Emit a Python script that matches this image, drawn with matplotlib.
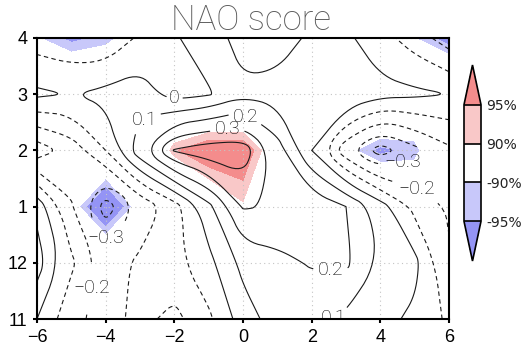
import numpy as np
import matplotlib
matplotlib.use('Agg')
import matplotlib.pyplot as plt
from matplotlib.colors import ListedColormap, BoundaryNorm
from matplotlib.path import Path
import matplotlib.cm as cm

# lag (x) and month (y) axes
lags = np.arange(-6, 7)
month_pos = np.arange(6)
month_labels = ['11', '12', '1', '2', '3', '4']

# correlation with NAO score, rows = Nov .. Apr, cols = lag -6 .. 6
corr = np.array([
    [0.00, -0.17, -0.24, -0.17, -0.23, -0.12, 0.05, 0.15, 0.13, 0.08, 0.03, -0.02, -0.12],
    [0.15, -0.08, -0.25, -0.18, -0.13, -0.03, 0.13, 0.17, 0.21, 0.22, 0.09, 0.03, -0.19],
    [0.07, -0.19, -0.45, -0.28, -0.15, 0.07, 0.31, 0.29, 0.27, 0.20, 0.05, -0.13, -0.21],
    [-0.36, -0.26, -0.10, 0.17, 0.41, 0.46, 0.46, 0.25, 0.00, -0.27, -0.45, -0.33, -0.22],
    [0.02, -0.005, 0.03, 0.05, -0.04, -0.01, 0.08, 0.06, 0.05, 0.09, 0.03, 0.02, 0.00],
    [-0.15, -0.18, -0.19, -0.08, -0.01, 0.05, 0.14, 0.15, 0.08, 0.02, -0.06, -0.15, -0.25],
])

# t statistic used for the significance shading
tval = np.array([
    [0.0, -0.7, -0.9, -0.7, -0.9, -0.4, 0.2, 0.6, 0.5, 0.3, 0.1, -0.2, -0.5],
    [0.6, -0.3, -0.5, -0.8, -0.5, -0.1, 0.5, 0.7, 0.8, 0.8, 0.3, 0.1, -0.8],
    [0.0, -1.3, -2.8, -1.3, -0.6, 0.9, 1.57, 0.8, 0.9, 0.7, 0.0, -0.8, -0.9],
    [-1.7, -0.8, -0.5, 0.0, 1.9, 2.4, 2.4, 1.0, 0.0, -1.45, -2.1, -1.82, -0.65],
    [0.0, -0.3, -0.3, 0.2, -0.1, 0.0, 0.0, 0.3, 0.2, 0.4, 0.03, -0.8, -0.3],
    [-1.6, -2.1, -1.85, -1.17, -0.3, 0.2, 0.6, 0.6, 0.4, 0.1, -0.3, -1.64, -2.2],
])

levels = np.round(np.arange(-0.5, 0.55, 0.1), 1) + 0.0
sig_bounds = [-1.96, -1.645, 1.645, 1.96]
sig_labels = ['-95%', '-90%', '90%', '95%']

# where the contour labels sit
label_pos = [(-3.15, 3.76), (-2.0, 3.88), (0.15, 3.72), (-0.45, 3.36),
             (4.75, 2.62), (5.0, 2.24), (-4.05, 1.25), (-4.05, 0.52),
             (2.55, 0.82), (2.55, 0.1)]


def chaikin(v, closed, n=3):
    # corner cutting, to get the smooth NCL look
    for _ in range(n):
        if closed:
            p = v[:-1]
            q = np.roll(p, -1, axis=0)
        else:
            p, q = v[:-1], v[1:]
        new = np.empty((2 * len(p), 2))
        new[0::2] = 0.75 * p + 0.25 * q
        new[1::2] = 0.25 * p + 0.75 * q
        if closed:
            v = np.vstack([new, new[:1]])
        else:
            v = np.vstack([v[:1], new, v[-1:]])
    return v


fig = plt.figure(figsize=(5.21, 3.48), dpi=100)
ax = fig.add_axes([37/521, 29/348, 412/521, 281/348])

cmap = ListedColormap(['#c8c8fa', 'white', '#f9c8c8'])
cmap.set_under('#9494f5')
cmap.set_over('#f48c8c')
norm = BoundaryNorm(sig_bounds, cmap.N)

ax.contourf(lags, month_pos, tval, levels=sig_bounds, cmap=cmap, norm=norm,
            extend='both', zorder=1)

styles = [(0, (4, 3)) if l < 0 else 'solid' for l in levels]
cs = ax.contour(lags, month_pos, corr, levels=levels, colors='#1a1a1a',
                linewidths=0.8, linestyles=styles, zorder=3)

paths = cs.get_paths()
for i, p in enumerate(paths):
    if len(p.vertices) == 0:
        continue
    codes = p.codes
    starts = list(np.where(codes == Path.MOVETO)[0]) + [len(codes)]
    vv, cc = [], []
    for a, b in zip(starts[:-1], starts[1:]):
        v = p.vertices[a:b]
        closed = codes[b - 1] == Path.CLOSEPOLY or np.allclose(v[0], v[-1])
        if closed:
            v = v.copy()
            v[-1] = v[0]
        s = chaikin(v, closed)
        c = np.full(len(s), Path.LINETO, dtype=np.uint8)
        c[0] = Path.MOVETO
        if closed:
            c[-1] = Path.CLOSEPOLY
        vv.append(s)
        cc.append(c)
    paths[i] = Path(np.concatenate(vv), np.concatenate(cc))


def fmt(v):
    return f'{round(v, 1) + 0.0:g}'.replace('-', '\u2212')


labs = cs.clabel(fmt=fmt, inline=True, inline_spacing=2, fontsize=14,
                 manual=label_pos, colors='#000000')
for t in labs:
    t.set_rotation(0)
    t.set_fontfamily('Roboto')
    t.set_fontweight('light')

ax.set_xlim(-6, 6)
ax.set_ylim(0, 5)
ax.set_xticks(np.arange(-6, 7, 2))
ax.set_yticks(month_pos)
ax.set_yticklabels(month_labels)
ax.grid(True, color='#c4c4c4', linestyle=(0, (1, 3)), linewidth=0.8, zorder=4)
ax.set_axisbelow(False)
for sp in ax.spines.values():
    sp.set_linewidth(1.5)
    sp.set_zorder(5)
ax.tick_params(direction='out', length=3, width=1.5, pad=4, labelsize=13)
for t in ax.get_xticklabels() + ax.get_yticklabels():
    t.set_fontfamily('Liberation Sans')

fig.text(251/521, 1 - 30/348, 'NAO score', ha='center', va='baseline',
         fontsize=25, color='#5a5a5a', family='Roboto', weight='light')

# colorbar axes covers the triangles too
cax = fig.add_axes([464/521, 87/348, 17/521, 196/348])
sm = cm.ScalarMappable(norm=norm, cmap=cmap)
cb = fig.colorbar(sm, cax=cax, extend='both', extendfrac=0.34,
                  ticks=sig_bounds, drawedges=True)
cb.set_ticklabels(sig_labels)
cb.ax.tick_params(length=0, labelsize=10, pad=4, labelcolor='#222222')
cb.outline.set_linewidth(1.2)
cb.dividers.set_linewidth(1.2)

plt.savefig('out.png', dpi=100)
